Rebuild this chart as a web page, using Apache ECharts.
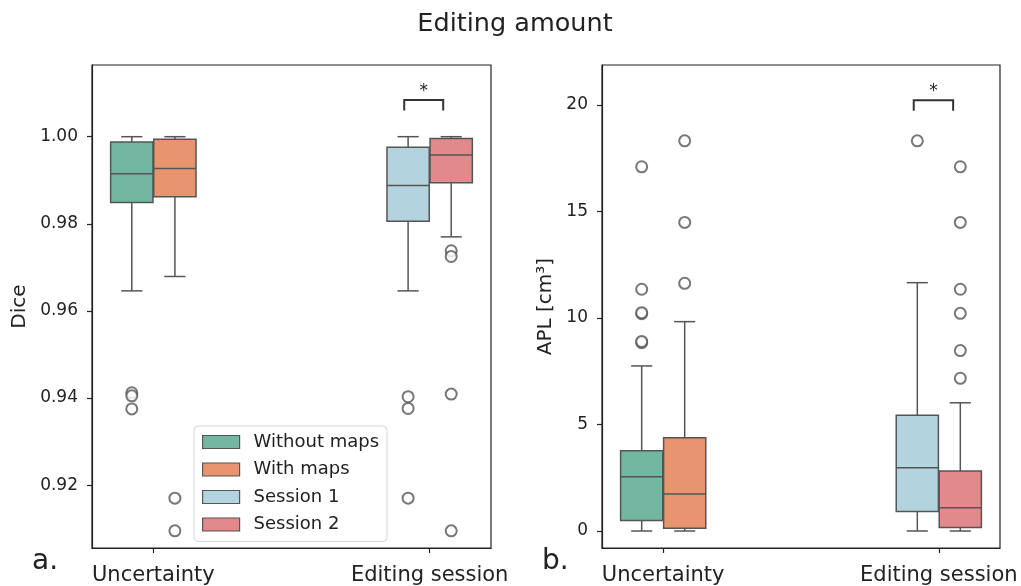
<!DOCTYPE html>
<html>
<head>
<meta charset="utf-8">
<title>Editing amount</title>
<script src="https://cdn.jsdelivr.net/npm/echarts@6/dist/echarts.min.js"></script>
<style>
  html, body { margin: 0; padding: 0; background: #fff; }
  #chart { width: 1021px; height: 586px; }
</style>
</head>
<body>
<div id="chart"></div>
<script>
// Categories and hue groups
const categories = ['Uncertainty', 'Editing session'];
const hueNames = ['Without maps', 'With maps', 'Session 1', 'Session 2'];
const hueCategory = [0, 0, 1, 1];      // which category each hue group belongs to
const hueSide = [-1, 1, -1, 1];        // left / right box within its category
const hueColors = ['#72b7a1', '#e8956f', '#b3d4df', '#e1898b'];

// Dice: box summaries [lower whisker, Q1, median, Q3, upper whisker]
const diceWithoutMaps = [0.9646, 0.9849, 0.9915, 0.9988, 1.0000];
const diceWithMaps    = [0.9679, 0.9862, 0.9927, 0.9994, 1.0000];
const diceSession1    = [0.9646, 0.9806, 0.9888, 0.9976, 1.0000];
const diceSession2    = [0.9770, 0.9894, 0.9958, 0.9996, 1.0000];
// Dice: outliers
const diceOutWithoutMaps = [0.9412, 0.9405, 0.9375];
const diceOutWithMaps    = [0.9170, 0.9095];
const diceOutSession1    = [0.9403, 0.9376, 0.9170];
const diceOutSession2    = [0.9738, 0.9725, 0.9409, 0.9095];

// APL [cm³]: box summaries
const aplWithoutMaps = [0, 0.49, 2.55, 3.77, 7.75];
const aplWithMaps    = [0, 0.13, 1.74, 4.38, 9.83];
const aplSession1    = [0, 0.91, 2.97, 5.43, 11.66];
const aplSession2    = [0, 0.17, 1.09, 2.82, 6.02];
// APL: outliers
const aplOutWithoutMaps = [8.84, 8.90, 10.20, 10.25, 11.35, 17.10];
const aplOutWithMaps    = [11.63, 14.49, 18.32];
const aplOutSession1    = [18.32];
const aplOutSession2    = [7.17, 8.47, 10.22, 11.35, 14.49, 17.10];

// Axis ticks
const diceTicks = [0.92, 0.94, 0.96, 0.98, 1.00];
const aplTicks = [0, 5, 10, 15, 20];

// Significance brackets (Session 1 vs Session 2): [x start, x end, top, leg end]
const diceSig = [0.908, 1.049, 1.0084, 1.0060];
const aplSig  = [0.909, 1.052, 20.23, 19.73];
const sigLabel = '*';

// ---- drawing ----
const FONT = '"DejaVu Sans", sans-serif';
const EDGE = '#555555';
const INK = '#222222';
const BOX_WIDTH = 0.153;
const HUE_OFFSET = 0.078;

function huePos(h) { return hueCategory[h] + hueSide[h] * HUE_OFFSET; }

function renderBox(params, api) {
  const x = api.value(0);
  const lo = api.value(1), q1 = api.value(2), med = api.value(3), q3 = api.value(4), hi = api.value(5);
  const h = BOX_WIDTH / 2, c = BOX_WIDTH / 4;
  const P = (xx, yy) => api.coord([xx, yy]);
  const line = (a, b) => ({
    type: 'line',
    shape: { x1: a[0], y1: a[1], x2: b[0], y2: b[1] },
    style: { stroke: EDGE, lineWidth: 1.5 }
  });
  const tl = P(x - h, q3), br = P(x + h, q1);
  return {
    type: 'group',
    children: [
      line(P(x, hi), P(x, q3)),
      line(P(x, q1), P(x, lo)),
      line(P(x - c, hi), P(x + c, hi)),
      line(P(x - c, lo), P(x + c, lo)),
      {
        type: 'rect',
        shape: { x: tl[0], y: tl[1], width: br[0] - tl[0], height: br[1] - tl[1] },
        style: { fill: api.visual('color'), stroke: EDGE, lineWidth: 1.5 }
      },
      line(P(x - h, med), P(x + h, med))
    ]
  };
}

function renderBracket(params, api) {
  const x1 = api.value(0), x2 = api.value(1), top = api.value(2), leg = api.value(3);
  const a = api.coord([x1, leg]), b = api.coord([x1, top]);
  const c = api.coord([x2, top]), d = api.coord([x2, leg]);
  return {
    type: 'group',
    children: [
      {
        type: 'polyline',
        shape: { points: [a, b, c, d] },
        style: { stroke: '#333', lineWidth: 2, fill: null }
      },
      {
        type: 'text',
        style: {
          text: sigLabel, x: (b[0] + c[0]) / 2, y: b[1] - 9,
          font: '17px ' + FONT, fill: INK,
          align: 'center', verticalAlign: 'middle'
        }
      }
    ]
  };
}

function boxSeries(name, color, x, summary, axisIdx) {
  return {
    type: 'custom', name: name,
    xAxisIndex: axisIdx, yAxisIndex: axisIdx,
    itemStyle: { color: color, borderColor: EDGE, borderWidth: 1.5 },
    encode: { x: 0, y: [1, 2, 3, 4, 5] },
    renderItem: renderBox,
    data: [[x].concat(summary)],
    z: 3
  };
}

function outlierSeries(lists, axisIdx) {
  const pts = [];
  lists.forEach((vals, h) => vals.forEach(v => pts.push([huePos(h), v])));
  return {
    type: 'scatter', name: 'outliers',
    xAxisIndex: axisIdx, yAxisIndex: axisIdx,
    symbol: 'emptyCircle', symbolSize: 11,
    itemStyle: { color: EDGE, borderWidth: 1.3 },
    data: pts, z: 4, silent: true
  };
}

function bracketSeries(sig, axisIdx) {
  return {
    type: 'custom', name: 'significance',
    xAxisIndex: axisIdx, yAxisIndex: axisIdx,
    encode: { x: [0, 1], y: [2, 3] },
    renderItem: renderBracket,
    data: [sig], z: 5, silent: true
  };
}

function xAxisDef(gridIndex) {
  return {
    type: 'value', gridIndex: gridIndex,
    min: -0.222, max: 1.222,
    axisLine: { show: true, onZero: false, lineStyle: { color: INK, width: 1.2 } },
    axisTick: { show: true, customValues: [0, 1], length: 5, lineStyle: { color: INK, width: 1.2 } },
    axisLabel: {
      customValues: [0, 1], margin: 17,
      formatter: v => categories[Math.round(v)],
      fontFamily: FONT, fontSize: 21, color: INK
    },
    splitLine: { show: false }
  };
}

function yAxisDef(gridIndex, min, max, ticks, fmt, name, gap) {
  return {
    type: 'value', gridIndex: gridIndex,
    min: min, max: max,
    name: name, nameLocation: 'middle', nameGap: gap,
    nameTextStyle: { fontFamily: FONT, fontSize: 20, color: INK },
    axisLine: { show: true, onZero: false, lineStyle: { color: INK, width: 1.2 } },
    axisTick: { show: true, customValues: ticks, length: 5, lineStyle: { color: INK, width: 1.2 } },
    axisLabel: {
      customValues: ticks, margin: 14, formatter: fmt,
      fontFamily: FONT, fontSize: 17, color: INK
    },
    splitLine: { show: false }
  };
}

const diceBoxes = [diceWithoutMaps, diceWithMaps, diceSession1, diceSession2];
const aplBoxes = [aplWithoutMaps, aplWithMaps, aplSession1, aplSession2];

const series = [];
hueNames.forEach((n, h) => series.push(boxSeries(n, hueColors[h], huePos(h), diceBoxes[h], 0)));
hueNames.forEach((n, h) => series.push(boxSeries(n, hueColors[h], huePos(h), aplBoxes[h], 1)));
series.push(outlierSeries([diceOutWithoutMaps, diceOutWithMaps, diceOutSession1, diceOutSession2], 0));
series.push(outlierSeries([aplOutWithoutMaps, aplOutWithMaps, aplOutSession1, aplOutSession2], 1));
series.push(bracketSeries(diceSig, 0));
series.push(bracketSeries(aplSig, 1));

const chart = echarts.init(document.getElementById('chart'), null, { renderer: 'canvas' });
chart.setOption({
  animation: false,
  backgroundColor: '#ffffff',
  textStyle: { fontFamily: FONT },
  grid: [
    { left: 92, top: 65, width: 399, height: 483, show: true, borderColor: INK, borderWidth: 1.2, backgroundColor: 'transparent' },
    { left: 602, top: 65, width: 398, height: 483, show: true, borderColor: INK, borderWidth: 1.2, backgroundColor: 'transparent' }
  ],
  xAxis: [xAxisDef(0), xAxisDef(1)],
  yAxis: [
    yAxisDef(0, 0.90556, 1.01646, diceTicks, v => v.toFixed(2), 'Dice', 62),
    yAxisDef(1, -0.798, 21.88, aplTicks, v => String(Math.round(v)), 'APL [cm³]', 46)
  ],
  legend: {
    data: hueNames,
    orient: 'vertical',
    left: 194, top: 426,
    padding: [7, 8, 8, 8],
    itemWidth: 37, itemHeight: 13, itemGap: 9.5,
    icon: 'rect',
    itemStyle: { borderColor: EDGE, borderWidth: 1.2 },
    textStyle: { fontFamily: FONT, fontSize: 18, color: INK, padding: [0, 0, 0, 9] },
    backgroundColor: 'rgba(255,255,255,0.85)',
    borderColor: '#d6d6d6', borderWidth: 1, borderRadius: 4,
    selectedMode: false,
    z: 10
  },
  graphic: [
    { type: 'text', x: 515, y: 24, style: { text: 'Editing amount', font: '25.5px ' + FONT, fill: INK, align: 'center', verticalAlign: 'middle' } },
    { type: 'text', x: 32, y: 562, style: { text: 'a.', font: '28px ' + FONT, fill: INK, align: 'left', verticalAlign: 'middle' } },
    { type: 'text', x: 542, y: 562, style: { text: 'b.', font: '28px ' + FONT, fill: INK, align: 'left', verticalAlign: 'middle' } }
  ],
  series: series
});
</script>
</body>
</html>
